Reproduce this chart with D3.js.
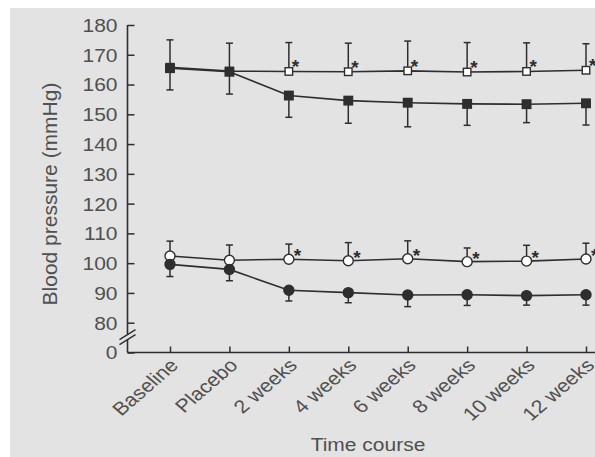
<!DOCTYPE html>
<html>
<head>
<meta charset="utf-8">
<script src="https://cdn.jsdelivr.net/npm/d3@7"></script>
<style>
  html, body { margin: 0; padding: 0; background: #fff; }
  svg { display: block; font-family: "Liberation Sans", Arial, Helvetica, sans-serif; }
</style>
</head>
<body>
<div id="chart"></div>
<script>
// time points on the x axis
const categories = ["Baseline", "Placebo", "2 weeks", "4 weeks", "6 weeks", "8 weeks", "10 weeks", "12 weeks"];
const yTicks = [0, 80, 90, 100, 110, 120, 130, 140, 150, 160, 170, 180];

// systolic, open squares (+ upper SD)
const sysOpen = [165.8, 164.5, 164.4, 164.3, 164.6, 164.2, 164.4, 164.8];
const sysOpenUpper = [175.0, 173.9, 174.1, 173.9, 174.6, 174.1, 174.0, 173.7];
// systolic, filled squares (+ lower SD)
const sysFilled = [165.5, 164.3, 156.3, 154.6, 153.9, 153.5, 153.4, 153.7];
const sysFilledLower = [158.2, 156.8, 149.0, 147.0, 145.8, 146.3, 147.2, 146.4];
// diastolic, open circles (+ upper SD)
const diaOpen = [102.4, 101.0, 101.3, 100.8, 101.5, 100.5, 100.7, 101.4];
const diaOpenUpper = [107.4, 106.1, 106.4, 106.9, 107.5, 105.1, 106.0, 106.7];
// diastolic, filled circles (+ lower SD)
const diaFilled = [99.6, 97.9, 90.9, 90.1, 89.3, 89.4, 89.1, 89.4];
const diaFilledLower = [95.5, 94.1, 87.3, 86.7, 85.4, 85.8, 85.9, 85.9];
// asterisk next to the open markers
const significant = [false, false, true, true, true, true, true, true];

const width = 595, height = 457;
const axisX = 127.5, axisY = 352.5;
const ink = "#2e2e2e", textCol = "#505050";

const svg = d3.select("#chart").append("svg")
    .attr("width", width)
    .attr("height", height);

svg.append("rect")
    .attr("x", 10).attr("y", 8)
    .attr("width", width - 10).attr("height", height - 8)
    .attr("fill", "#e3e3e3");

const x = d3.scalePoint().domain(categories).range([170, 586]);
// broken axis: 0 sits just below 80
const y = d3.scaleLinear().domain([0, 80, 180]).range([axisY, 322.7, 25]);

// y axis
const yAxis = svg.append("g")
    .attr("transform", "translate(" + axisX + ",0)")
    .call(d3.axisLeft(y).tickValues(yTicks).tickSize(-7).tickPadding(10));
yAxis.select(".domain").remove();
yAxis.selectAll(".tick line").attr("stroke", ink).attr("stroke-width", 1.5);
yAxis.selectAll(".tick text")
    .attr("fill", textCol)
    .attr("font-size", 21)
    .attr("dy", "0.36em")
    .attr("transform", "scale(1,0.85)");

// x axis
const xAxis = svg.append("g")
    .attr("transform", "translate(0," + axisY + ")")
    .call(d3.axisBottom(x).tickSize(-6));
xAxis.select(".domain").remove();
xAxis.selectAll(".tick line").attr("stroke", ink).attr("stroke-width", 1.5);
xAxis.selectAll(".tick text")
    .attr("fill", textCol)
    .attr("font-size", 21.5)
    .attr("y", 0).attr("dy", null)
    .attr("text-anchor", "end")
    .attr("transform", "translate(9,14) scale(1,0.86) rotate(-45)");

// axis lines
svg.append("line")
    .attr("x1", axisX).attr("x2", axisX)
    .attr("y1", y(180)).attr("y2", axisY)
    .attr("stroke", ink).attr("stroke-width", 1.6);
svg.append("line")
    .attr("x1", axisX).attr("x2", width)
    .attr("y1", axisY).attr("y2", axisY)
    .attr("stroke", ink).attr("stroke-width", 1.6);

// axis break
const by = y(40);
svg.append("rect")
    .attr("x", axisX - 2).attr("y", by - 3)
    .attr("width", 4).attr("height", 5)
    .attr("fill", "#e3e3e3");
[-3, 2].forEach(function(o) {
  svg.append("line")
      .attr("x1", axisX - 8).attr("y1", by + o + 5)
      .attr("x2", axisX + 8).attr("y2", by + o - 5)
      .attr("stroke", ink).attr("stroke-width", 1.4);
});

// axis titles
svg.append("text")
    .attr("transform", "translate(57,194) rotate(-90)")
    .attr("text-anchor", "middle")
    .attr("font-size", 21)
    .attr("fill", textCol)
    .text("Blood pressure (mmHg)");
svg.append("text")
    .attr("transform", "translate(368,451) scale(1,0.86)")
    .attr("text-anchor", "middle")
    .attr("font-size", 21)
    .attr("fill", textCol)
    .text("Time course");

const line = d3.line()
    .x(function(d, i) { return x(categories[i]); })
    .y(function(d) { return y(d); });

function errorBars(vals, ends) {
  const g = svg.append("g").attr("stroke", ink).attr("stroke-width", 1.5);
  vals.forEach(function(v, i) {
    const cx = x(categories[i]);
    g.append("line").attr("x1", cx).attr("x2", cx).attr("y1", y(v)).attr("y2", y(ends[i]));
    g.append("line").attr("x1", cx - 3.5).attr("x2", cx + 3.5).attr("y1", y(ends[i])).attr("y2", y(ends[i]));
  });
}

function series(vals, ends, shape, filled) {
  svg.append("path")
      .datum(vals)
      .attr("d", line)
      .attr("fill", "none")
      .attr("stroke", ink)
      .attr("stroke-width", 1.6);
  errorBars(vals, ends);
  const g = svg.append("g");
  vals.forEach(function(v, i) {
    const cx = x(categories[i]), cy = y(v);
    let m;
    if (shape === "square") {
      const s = filled ? 8.5 : 7.5;
      m = g.append("rect").attr("x", cx - s / 2).attr("y", cy - s / 2).attr("width", s).attr("height", s);
    } else {
      m = g.append("circle").attr("cx", cx).attr("cy", cy).attr("r", 5);
    }
    m.attr("fill", filled ? ink : "#fff")
     .attr("stroke", ink)
     .attr("stroke-width", 1.4);
  });
}

series(sysOpen, sysOpenUpper, "square", false);
series(sysFilled, sysFilledLower, "square", true);
series(diaOpen, diaOpenUpper, "circle", false);
series(diaFilled, diaFilledLower, "circle", true);

// asterisks
function stars(vals, dx, dy) {
  vals.forEach(function(v, i) {
    if (!significant[i]) return;
    svg.append("text")
        .attr("x", x(categories[i]) + dx)
        .attr("y", y(v) + dy)
        .attr("font-size", 19)
        .attr("font-weight", "bold")
        .attr("fill", ink)
        .text("*");
  });
}
stars(sysOpen, 3, 2);
stars(diaOpen, 5, 3);
</script>
</body>
</html>
